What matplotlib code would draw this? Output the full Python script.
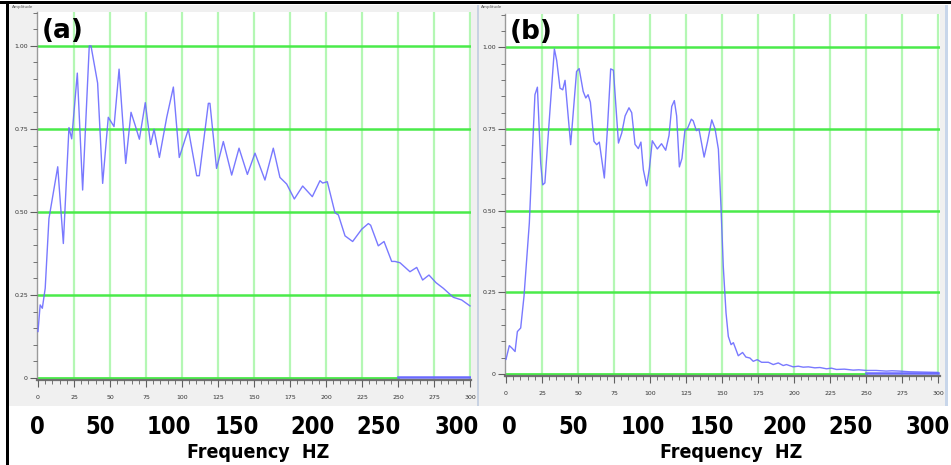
import matplotlib
matplotlib.use("Agg")
import matplotlib.pyplot as plt
from matplotlib.patches import Rectangle
from matplotlib.ticker import MultipleLocator, FixedLocator, FixedFormatter

# Panel (a): spectrum amplitude vs frequency
freq_a = [0, 1.5, 3, 5, 7.6, 13.7, 17.6, 21.5, 23.4, 27.3, 31, 35.6, 36.8, 41.4,
          44.9, 48.8, 52.8, 56.3, 60.9, 64.6, 67.4, 70.4, 74.5, 78.2, 80.6, 84.3,
          89.4, 94, 98.1, 104.4, 110.2, 112, 118.3, 119.4, 124, 128.7, 134.5,
          139.6, 145.4, 150.7, 157.6, 163.4, 168, 172.7, 178, 183.8, 190.5, 195.8,
          197.7, 200.9, 206.2, 208.6, 213.2, 218.5, 224.8, 229.4, 231, 236.3,
          240.3, 245.6, 247.9, 251.4, 258.3, 263, 267.1, 271.5, 276.4, 281.5,
          288.4, 294.2, 300]
amp_a = [0.14, 0.22, 0.21, 0.27, 0.48, 0.636, 0.405, 0.754, 0.72, 0.918, 0.566, 1.0,
         1.0, 0.888, 0.586, 0.785, 0.757, 0.93, 0.646, 0.80, 0.762, 0.719, 0.829,
         0.703, 0.749, 0.664, 0.785, 0.876, 0.664, 0.749, 0.609, 0.609, 0.827,
         0.827, 0.631, 0.712, 0.611, 0.692, 0.613, 0.677, 0.596, 0.692, 0.604,
         0.584, 0.539, 0.578, 0.546, 0.594, 0.587, 0.591, 0.498, 0.491, 0.428,
         0.411, 0.448, 0.465, 0.46, 0.398, 0.411, 0.351, 0.351, 0.347, 0.32,
         0.333, 0.295, 0.31, 0.287, 0.27, 0.243, 0.235, 0.217]

# Panel (b): filtered spectrum
freq_b = [0, 2.3, 4, 6.3, 7.9, 10.2, 12.5, 16.2, 19, 20.1, 21.8, 24.1, 25.5, 27,
          30.6, 33.6, 35.2, 37.5, 39.4, 41, 44.9, 49, 50.8, 53.6, 55.4, 57, 58.6,
          61.1, 63, 64.8, 68.3, 70.4, 72.7, 74.6, 78.1, 80.4, 82.7, 85.4, 87.3,
          89.6, 91.9, 93.7, 95.4, 97.7, 99.6, 101.6, 105.1, 108, 110.9, 113.2,
          115.1, 116.9, 118.5, 120.4, 122.2, 124.3, 125.9, 128.7, 130, 132.2, 134,
          137.6, 139.9, 142.9, 145.2, 147.5, 149.3, 150.9, 152.8, 154.4, 156.3,
          157.9, 161.3, 164.3, 166.6, 169.4, 171.7, 174.5, 177.5, 182.2, 185.6,
          189.1, 192.5, 194.8, 199.4, 203, 206.4, 210, 214.5, 218, 222.6, 226,
          229.5, 235, 241.1, 245, 250.3, 257, 264.2, 268, 273.4, 280, 290, 300]
amp_b = [0.045, 0.087, 0.08, 0.069, 0.13, 0.141, 0.238, 0.462, 0.748, 0.855, 0.878,
         0.646, 0.579, 0.585, 0.811, 0.995, 0.96, 0.875, 0.87, 0.899, 0.702, 0.926,
         0.935, 0.865, 0.845, 0.855, 0.832, 0.712, 0.702, 0.71, 0.6, 0.748, 0.934,
         0.93, 0.707, 0.738, 0.79, 0.815, 0.8, 0.703, 0.69, 0.71, 0.625, 0.576,
         0.63, 0.714, 0.689, 0.705, 0.685, 0.73, 0.819, 0.837, 0.79, 0.634, 0.66,
         0.748, 0.75, 0.78, 0.775, 0.745, 0.75, 0.664, 0.71, 0.778, 0.75, 0.688,
         0.513, 0.329, 0.187, 0.115, 0.09, 0.096, 0.056, 0.066, 0.052, 0.049,
         0.039, 0.044, 0.036, 0.036, 0.029, 0.034, 0.026, 0.029, 0.022, 0.024,
         0.021, 0.022, 0.019, 0.02, 0.016, 0.018, 0.014, 0.015, 0.012, 0.013,
         0.011, 0.011, 0.009, 0.01, 0.009, 0.007, 0.006, 0.005]

small_xticks = list(range(0, 301, 25))
small_yticks = [0, 0.25, 0.5, 0.75, 1.0]
small_ylabels = ["0", "0.25", "0.50", "0.75", "1.00"]
big_labels = ["0", "50", "100", "150", "200", "250", "300"]
big_pos_a = [37, 100, 169, 237, 313, 378, 457]
big_pos_b = [509, 573, 643, 712, 785, 850, 928]

W, H = 951, 465
fig = plt.figure(figsize=(W / 100, H / 100), dpi=100)
fig.patch.set_facecolor("white")


def px_box(l, t, r, b):
    return [l / W, 1 - b / H, (r - l) / W, (b - t) / H]


def rect(l, t, r, b, color, z=-5):
    fig.patches.append(Rectangle((l / W, 1 - b / H), (r - l) / W, (b - t) / H,
                                 transform=fig.transFigure, facecolor=color,
                                 edgecolor="none", zorder=z))


BIG = dict(family="DejaVu Sans", fontstretch="condensed", fontweight="bold",
           color="black")


def panel(box, xlim, ylim, freq, amp, tag):
    ax = fig.add_axes(px_box(*box))
    ax.set_facecolor("white")
    ax.set_xlim(*xlim)
    ax.set_ylim(*ylim)
    for x in small_xticks[1:]:
        ax.axvline(x, color="#b4f7b4", lw=1.6, zorder=1)
    for y in small_yticks[1:]:
        ax.axhline(y, color="#4aeb4a", lw=1.8, zorder=1)
    ax.plot([0, 250], [0, 0], color="#4aeb4a", lw=2.0, zorder=2)
    ax.plot([250, 300], [0.003, 0.003], color="#6a6aff", lw=1.8, zorder=2)
    ax.plot(freq, amp, color="#6a6aff", lw=1.0, alpha=0.9, zorder=3)

    for s in ["top", "right"]:
        ax.spines[s].set_visible(False)
    ax.spines["left"].set_color("#9a9a9a")
    ax.spines["left"].set_linewidth(1.0)
    ax.spines["bottom"].set_color("#707070")
    ax.spines["bottom"].set_linewidth(1.6)

    ax.xaxis.set_major_locator(FixedLocator(small_xticks))
    ax.xaxis.set_minor_locator(MultipleLocator(5))
    ax.yaxis.set_major_locator(FixedLocator(small_yticks))
    ax.yaxis.set_major_formatter(FixedFormatter(small_ylabels))
    ax.yaxis.set_minor_locator(MultipleLocator(0.05))
    ax.tick_params(which="both", direction="out", colors="#606060",
                   labelsize=4.5, labelcolor="#333333", pad=1.5)
    ax.tick_params(which="major", length=5, width=0.8)
    ax.tick_params(which="minor", length=3, width=0.6)
    ax.tick_params(axis="x", pad=6)
    ax.set_axisbelow(False)

    ax.text(0.012, 0.985, tag, transform=ax.transAxes, ha="left", va="top",
            fontsize=19, fontweight="bold", family="DejaVu Sans", zorder=5)
    return ax


# screenshot backgrounds
rect(9, 5, 477, 406, "#f0f0f0")
rect(478, 5, 945, 406, "#f0f0f0")
rect(477, 5, 478.5, 406, "#c8d2e2")
rect(945, 5, 948, 406, "#c8d6ea")

panel((37, 12, 471, 380), (-0.694, 300.69), (-0.006, 1.102), freq_a, amp_a, "(a)")
panel((505, 14, 940, 376), (-0.694, 301.4), (-0.006, 1.102), freq_b, amp_b, "(b)")

fig.text(12 / W, 1 - 7 / H, "Amplitude", fontsize=3, color="#555555", va="center")
fig.text(481 / W, 1 - 7 / H, "Amplitude", fontsize=3, color="#555555", va="center")

for lab, x in zip(big_labels, big_pos_a):
    fig.text(x / W, 1 - 427 / H, lab, ha="center", va="center", fontsize=17, **BIG)
for lab, x in zip(big_labels, big_pos_b):
    fig.text(x / W, 1 - 427 / H, lab, ha="center", va="center", fontsize=17, **BIG)
fig.text(258 / W, 1 - 452 / H, "Frequency  HZ", ha="center", va="center",
         fontsize=14, **BIG)
fig.text(731 / W, 1 - 452 / H, "Frequency  HZ", ha="center", va="center",
         fontsize=14, **BIG)

# outer frame of the composite
rect(0, 1, W, 4, "black", z=10)
rect(6, 1, 9, H, "black", z=10)

fig.savefig("out.png", dpi=100)
